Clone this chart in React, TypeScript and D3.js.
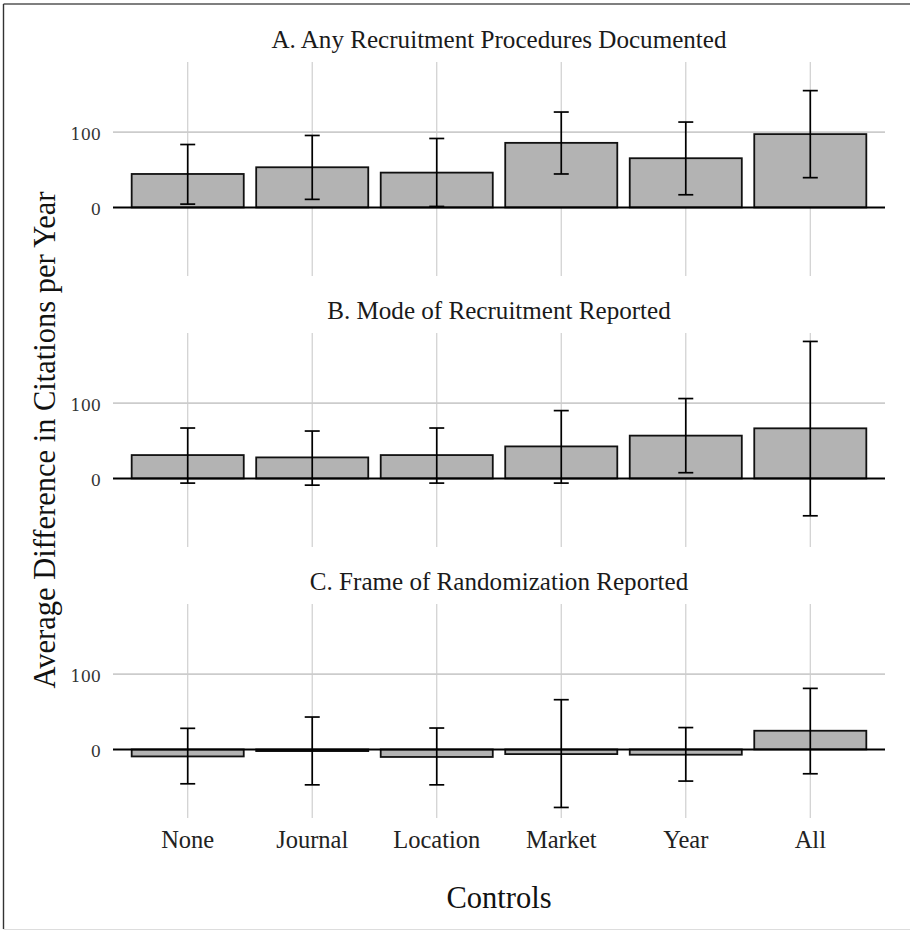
import React from "react";
import * as d3 from "d3";

// Control sets on the x axis
const controls = ["None", "Journal", "Location", "Market", "Year", "All"];

// Panel titles
const panelTitles = [
  "A. Any Recruitment Procedures Documented",
  "B. Mode of Recruitment Reported",
  "C. Frame of Randomization Reported",
];

// Point estimates (difference in citations per year)
const estA = [44.4, 53.3, 46.2, 85.7, 65.3, 97.3];
const estB = [31.0, 27.9, 31.0, 42.5, 56.8, 66.5];
const estC = [-9.3, -2.2, -10.0, -6.2, -7.0, 24.8];

// Confidence interval bounds
const lowA = [4.4, 10.7, 1.3, 44.4, 16.8, 39.5];
const highA = [83.5, 95.5, 91.5, 126.6, 113.3, 155.0];
const lowB = [-6.2, -8.9, -6.2, -6.2, 7.6, -49.6];
const highB = [66.9, 62.9, 66.9, 90.0, 106.0, 181.8];
const lowC = [-45.6, -47.0, -47.0, -77.0, -42.0, -32.3];
const highC = [28.0, 43.0, 28.4, 66.0, 29.0, 81.0];

// Y axis breaks
const yTicks = [0, 100];

const W = 910;
const H = 931;
const plotLeft = 113;
const plotRight = 885;
const panelTops = [62, 333, 604];
const panelH = 214;
const yDomain: [number, number] = [-91, 193];

const SERIF = "'Liberation Serif', 'Times New Roman', serif";
const TICKFONT = "'DejaVu Serif', serif";

const panels = [
  { title: panelTitles[0], est: estA, low: lowA, high: highA },
  { title: panelTitles[1], est: estB, low: lowB, high: highB },
  { title: panelTitles[2], est: estC, low: lowC, high: highC },
];

export default function App() {
  const x = d3.scalePoint<string>().domain(controls).range([plotLeft, plotRight]).padding(0.6);
  const step = x.step();
  const barW = step * 0.9;
  const capW = 15;

  return (
    <svg
      width={W}
      height={H}
      viewBox={`0 0 ${W} ${H}`}
      style={{ position: "absolute", left: 0, top: 0, background: "#fff" }}
    >
      <rect x={0} y={0} width={W} height={H} fill="#fff" />
      {/* frame */}
      <line x1={3.5} x2={W} y1={4} y2={4} stroke="#555" strokeWidth={1.4} />
      <line x1={3.5} x2={3.5} y1={4} y2={929} stroke="#333" strokeWidth={1.4} />
      <line x1={3.5} x2={W} y1={929.5} y2={929.5} stroke="#ddd" strokeWidth={1.2} />

      {panels.map((p, pi) => {
        const top = panelTops[pi];
        const y = d3.scaleLinear().domain(yDomain).range([top + panelH, top]);
        return (
          <g key={pi}>
            <text
              x={(plotLeft + plotRight) / 2}
              y={top - 14}
              textAnchor="middle"
              fontFamily={SERIF}
              fontSize={25.1}
              fill="#1a1a1a"
            >
              {p.title}
            </text>
            {/* vertical grid */}
            {controls.map((c) => (
              <line
                key={c}
                x1={x(c)}
                x2={x(c)}
                y1={top}
                y2={top + panelH}
                stroke="#cfcfcf"
                strokeWidth={1.2}
              />
            ))}
            {/* horizontal grid */}
            {yTicks
              .filter((t) => t !== 0)
              .map((t) => (
                <line
                  key={t}
                  x1={plotLeft}
                  x2={plotRight}
                  y1={y(t)}
                  y2={y(t)}
                  stroke="#cccccc"
                  strokeWidth={1.6}
                />
              ))}
            {/* y tick labels */}
            {yTicks.map((t) => (
              <text
                key={t}
                x={101}
                y={y(t) + 7.7}
                textAnchor="end"
                fontFamily={TICKFONT}
                fontSize={16}
                fill="#333"
              >
                {t}
              </text>
            ))}
            {/* bars */}
            {controls.map((c, i) => {
              const v = p.est[i];
              const y0 = y(0);
              const yv = y(v);
              return (
                <rect
                  key={c}
                  x={(x(c) as number) - barW / 2}
                  y={Math.min(y0, yv)}
                  width={barW}
                  height={Math.abs(yv - y0)}
                  fill="#b3b3b3"
                  stroke="#111"
                  strokeWidth={1.8}
                />
              );
            })}
            {/* zero line */}
            <line
              x1={plotLeft}
              x2={plotRight}
              y1={y(0)}
              y2={y(0)}
              stroke="#000"
              strokeWidth={2}
            />
            {/* error bars */}
            {controls.map((c, i) => {
              const cx = x(c) as number;
              const yl = y(p.low[i]);
              const yh = y(p.high[i]);
              return (
                <g key={c} stroke="#000" strokeWidth={1.7}>
                  <line x1={cx} x2={cx} y1={yl} y2={yh} />
                  <line x1={cx - capW / 2} x2={cx + capW / 2} y1={yl} y2={yl} />
                  <line x1={cx - capW / 2} x2={cx + capW / 2} y1={yh} y2={yh} />
                </g>
              );
            })}
          </g>
        );
      })}

      {/* x tick labels */}
      {controls.map((c) => (
        <text
          key={c}
          x={x(c)}
          y={848}
          textAnchor="middle"
          fontFamily={SERIF}
          fontSize={24.5}
          fill="#222"
        >
          {c}
        </text>
      ))}

      {/* axis titles */}
      <text
        x={(plotLeft + plotRight) / 2}
        y={908}
        textAnchor="middle"
        fontFamily={SERIF}
        fontSize={30.5}
        fill="#111"
      >
        Controls
      </text>
      <text
        transform={`translate(55, 440) rotate(-90)`}
        textAnchor="middle"
        fontFamily={SERIF}
        fontSize={30.5}
        fill="#111"
      >
        Average Difference in Citations per Year
      </text>
    </svg>
  );
}
